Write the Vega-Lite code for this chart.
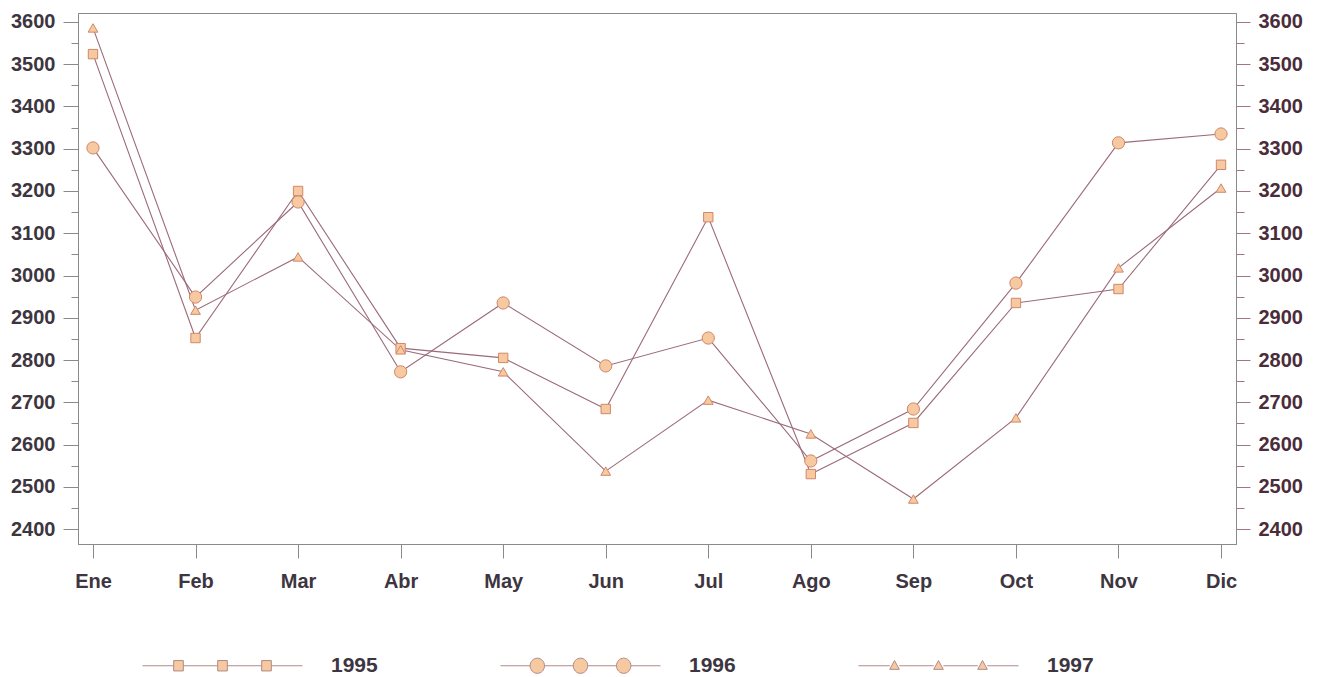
{
  "$schema": "https://vega.github.io/schema/vega-lite/v6.json",
  "width": 1158,
  "height": 531,
  "autosize": {"type": "none"},
  "padding": {"left": 78, "top": 13, "right": 83, "bottom": 133},
  "background": "white",
  "config": {"view": {"stroke": "#8a8a8a", "strokeWidth": 1}, "font": "Liberation Sans"},
  "data": {"values": [
    {"mes": "Ene", "year": "1995", "v": 3524}, {"mes": "Feb", "year": "1995", "v": 2852}, {"mes": "Mar", "year": "1995", "v": 3200},
    {"mes": "Abr", "year": "1995", "v": 2828}, {"mes": "May", "year": "1995", "v": 2805}, {"mes": "Jun", "year": "1995", "v": 2684},
    {"mes": "Jul", "year": "1995", "v": 3138}, {"mes": "Ago", "year": "1995", "v": 2530}, {"mes": "Sep", "year": "1995", "v": 2651},
    {"mes": "Oct", "year": "1995", "v": 2935}, {"mes": "Nov", "year": "1995", "v": 2968}, {"mes": "Dic", "year": "1995", "v": 3262},
    {"mes": "Ene", "year": "1996", "v": 3302}, {"mes": "Feb", "year": "1996", "v": 2949}, {"mes": "Mar", "year": "1996", "v": 3174},
    {"mes": "Abr", "year": "1996", "v": 2772}, {"mes": "May", "year": "1996", "v": 2935}, {"mes": "Jun", "year": "1996", "v": 2786},
    {"mes": "Jul", "year": "1996", "v": 2852}, {"mes": "Ago", "year": "1996", "v": 2561}, {"mes": "Sep", "year": "1996", "v": 2684},
    {"mes": "Oct", "year": "1996", "v": 2982}, {"mes": "Nov", "year": "1996", "v": 3314}, {"mes": "Dic", "year": "1996", "v": 3335},
    {"mes": "Ene", "year": "1997", "v": 3586}, {"mes": "Feb", "year": "1997", "v": 2918}, {"mes": "Mar", "year": "1997", "v": 3044},
    {"mes": "Abr", "year": "1997", "v": 2824}, {"mes": "May", "year": "1997", "v": 2772}, {"mes": "Jun", "year": "1997", "v": 2537},
    {"mes": "Jul", "year": "1997", "v": 2705}, {"mes": "Ago", "year": "1997", "v": 2625}, {"mes": "Sep", "year": "1997", "v": 2471},
    {"mes": "Oct", "year": "1997", "v": 2663}, {"mes": "Nov", "year": "1997", "v": 3018}, {"mes": "Dic", "year": "1997", "v": 3207}
  ]},
  "encoding": {
    "x": {
      "field": "mes", "type": "ordinal",
      "sort": ["Ene", "Feb", "Mar", "Abr", "May", "Jun", "Jul", "Ago", "Sep", "Oct", "Nov", "Dic"],
      "scale": {"type": "point", "padding": 0.146},
      "axis": {"title": null, "labelAngle": 0, "tickSize": 14, "labelPadding": 13, "labelFontSize": 20, "labelFontWeight": "bold", "labelColor": "#3d3540", "domainColor": "#8a8a8a", "tickColor": "#8a8a8a", "grid": false}
    }
  },
  "layer": [
    {
      "mark": {"type": "line", "color": "#9b6b78", "strokeWidth": 1.1},
      "encoding": {
        "y": {
          "field": "v", "type": "quantitative",
          "scale": {"domain": [2364.5, 3621.3], "nice": false, "zero": false},
          "axis": {
            "orient": "left", "title": null, "grid": false, "format": "d",
            "values": [2400, 2450, 2500, 2550, 2600, 2650, 2700, 2750, 2800, 2850, 2900, 2950, 3000, 3050, 3100, 3150, 3200, 3250, 3300, 3350, 3400, 3450, 3500, 3550, 3600],
            "labelExpr": "datum.value % 100 === 0 ? datum.label : ''",
            "tickSize": {"condition": {"test": "datum.value % 100 !== 0", "value": 7}, "value": 15},
            "labelFontSize": 20, "labelFontWeight": "bold", "labelColor": "#3d3540", "labelPadding": 8,
            "domainColor": "#8a8a8a", "tickColor": "#8a8a8a"
          }
        },
        "detail": {"field": "year", "type": "nominal"}
      }
    },
    {
      "mark": {"type": "point", "filled": true, "fill": "#f6c9a0", "stroke": "#d0876a", "strokeWidth": 1, "opacity": 1},
      "encoding": {
        "y": {
          "field": "v", "type": "quantitative",
          "axis": {
            "orient": "right", "title": null, "grid": false, "format": "d",
            "values": [2400, 2450, 2500, 2550, 2600, 2650, 2700, 2750, 2800, 2850, 2900, 2950, 3000, 3050, 3100, 3150, 3200, 3250, 3300, 3350, 3400, 3450, 3500, 3550, 3600],
            "labelExpr": "datum.value % 100 === 0 ? datum.label : ''",
            "tickSize": {"condition": {"test": "datum.value % 100 !== 0", "value": 8}, "value": 14},
            "labelFontSize": 20, "labelFontWeight": "bold", "labelColor": "#4a2c3a", "labelPadding": 8,
            "domainColor": "#8a8a8a", "tickColor": "#a07584"
          }
        },
        "shape": {
          "condition": [
            {"test": "datum.year === '1996'", "value": "circle"},
            {"test": "datum.year === '1997'", "value": "triangle-up"}
          ],
          "value": "square"
        },
        "size": {
          "condition": [
            {"test": "datum.year === '1996'", "value": 150},
            {"test": "datum.year === '1997'", "value": 95}
          ],
          "value": 88
        }
      }
    },
    {
      "transform": [{"filter": "false"}],
      "mark": {"type": "point", "filled": true, "strokeWidth": 1, "opacity": 1},
      "encoding": {
        "stroke": {
          "field": "year", "type": "nominal",
          "scale": {"domain": ["1995", "1996", "1997"], "range": ["#b08a88", "#b08a88", "#b08a88"]}
        },
        "fill": {
          "field": "year", "type": "nominal",
          "scale": {"domain": ["1995", "1996", "1997"], "range": ["#f6c9a0", "#f6c9a0", "#f6c9a0"]}
        },
        "shape": {
          "field": "year", "type": "nominal",
          "scale": {"domain": ["1995", "1996", "1997"], "range": [
            "M-1,0H-0.61M-0.49,0H-0.06M0.06,0H0.49M0.61,0H1M-0.61,-0.065H-0.49V0.065H-0.61ZM-0.06,-0.065H0.06V0.065H-0.06ZM0.49,-0.065H0.61V0.065H0.49Z",
            "M-1,0H-0.63M-0.45,0H-0.09M0.09,0H0.45M0.63,0H1M-0.63,0A0.09,0.095,0,1,0,-0.45,0A0.09,0.095,0,1,0,-0.63,0ZM-0.09,0A0.09,0.095,0,1,0,0.09,0A0.09,0.095,0,1,0,-0.09,0ZM0.45,0A0.09,0.095,0,1,0,0.63,0A0.09,0.095,0,1,0,0.45,0Z",
            "M-1,0H-0.61M-0.49,0H-0.06M0.06,0H0.49M0.61,0H1M-0.61,0.045L-0.55,-0.065L-0.49,0.045ZM-0.06,0.045L0,-0.065L0.06,0.045ZM0.49,0.045L0.55,-0.065L0.61,0.045Z"
          ]},
          "legend": {
            "orient": "none", "legendX": 64, "legendY": 572, "direction": "horizontal", "title": null,
            "symbolSize": 25600, "labelFontSize": 21, "labelFont": "Liberation Sans", "labelFontWeight": "bold", "labelColor": "#3d3540",
            "labelOffset": 28, "columnPadding": 120, "padding": 0, "symbolStrokeWidth": 1, "symbolOpacity": 1
          }
        }
      }
    }
  ],
  "resolve": {"axis": {"y": "independent"}}
}
